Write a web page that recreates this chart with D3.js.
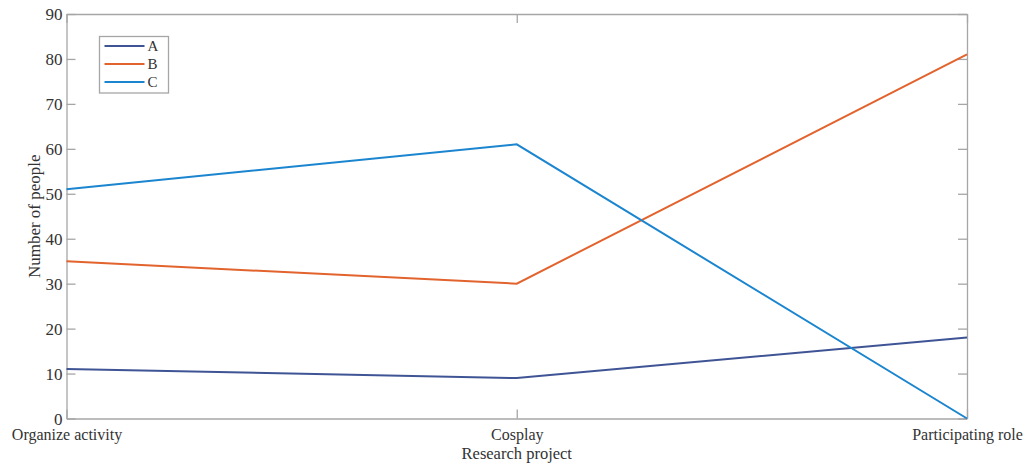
<!DOCTYPE html>
<html>
<head>
<meta charset="utf-8">
<script src="https://cdn.jsdelivr.net/npm/d3@7"></script>
<style>
	body { margin: 0; background: #fff; }
	svg text { font-family: "Liberation Serif", "DejaVu Serif", serif !important; }
</style>
</head>
<body>
<svg id="chart"></svg>
<script>
const categories = ["Organize activity", "Cosplay", "Participating role"];
const seriesNames = ["A", "B", "C"];
const valuesA = [11, 9, 18];
const valuesB = [35, 30, 81];
const valuesC = [51, 61, 0];
const yTicks = [0, 10, 20, 30, 40, 50, 60, 70, 80, 90];

const colors = ["#3f5495", "#e2632d", "#1b85cf"];
const series = [valuesA, valuesB, valuesC];

let WIDTH = 1027,
	HEIGHT = 467,
	MARGINS = { top: 14, right: 60, bottom: 48.5, left: 66.5 };

let vis = d3.select("#chart")
	.attr("width", WIDTH)
	.attr("height", HEIGHT);

let xScale = d3.scalePoint()
	.domain(categories)
	.range([MARGINS.left, WIDTH - MARGINS.right]);

let yScale = d3.scaleLinear()
	.domain([0, 90])
	.range([HEIGHT - MARGINS.bottom, MARGINS.top]);

const axisColor = "#a6a6a6";
const textColor = "#333";
const tickLen = 9;

// bottom axis
let xAxis = vis.append("g")
	.attr("transform", "translate(0," + (HEIGHT - MARGINS.bottom) + ")")
	.call(d3.axisBottom(xScale).tickSizeInner(-tickLen).tickSizeOuter(0).tickPadding(10));
// top axis ticks only
let xTop = vis.append("g")
	.attr("transform", "translate(0," + MARGINS.top + ")")
	.call(d3.axisTop(xScale).tickSizeInner(-tickLen).tickSizeOuter(0).tickFormat(""));
// left axis
let yAxis = vis.append("g")
	.attr("transform", "translate(" + MARGINS.left + ",0)")
	.call(d3.axisLeft(yScale).tickValues(yTicks).tickSizeInner(-tickLen).tickSizeOuter(0).tickPadding(4));
// right axis ticks only
let yRight = vis.append("g")
	.attr("transform", "translate(" + (WIDTH - MARGINS.right) + ",0)")
	.call(d3.axisRight(yScale).tickValues(yTicks).tickSizeInner(-tickLen).tickSizeOuter(0).tickFormat(""));

[xAxis, xTop, yAxis, yRight].forEach(function (g) {
	g.attr("font-family", null);
	g.select(".domain").attr("stroke", axisColor).attr("stroke-width", 1.3);
	g.selectAll(".tick line").attr("stroke", axisColor).attr("stroke-width", 1.3);
	g.selectAll(".tick text")
		.attr("fill", textColor)
		.style("font-size", "17px");
});
yAxis.selectAll(".tick text").attr("dy", "0.35em");
xAxis.selectAll(".tick text").style("font-size", "16px");

// axis titles
vis.append("text")
	.attr("x", xScale(categories[1]))
	.attr("y", 459)
	.attr("text-anchor", "middle")
	.attr("fill", textColor)
	.style("font-size", "16.5px")
	.text("Research project");

vis.append("text")
	.attr("transform", "translate(40," + yScale(45) + ") rotate(-90)")
	.attr("text-anchor", "middle")
	.attr("fill", textColor)
	.style("font-size", "17px")
	.text("Number of people");

// lines
let lineGen = d3.line()
	.x(function (d, i) { return xScale(categories[i]); })
	.y(function (d) { return yScale(d); });

for (let i = 0; i < series.length; i++) {
	vis.append("path")
		.attr("d", lineGen(series[i]))
		.attr("stroke", colors[i])
		.attr("stroke-width", 2)
		.attr("fill", "none");
}

// legend
let legend = vis.append("g").attr("transform", "translate(99.5,36.5)");
legend.append("rect")
	.attr("width", 69)
	.attr("height", 56.5)
	.attr("fill", "#fff")
	.attr("stroke", axisColor)
	.attr("stroke-width", 1.3);
for (let i = 0; i < seriesNames.length; i++) {
	let yy = 9.5 + i * 18;
	legend.append("line")
		.attr("x1", 5).attr("x2", 45)
		.attr("y1", yy).attr("y2", yy)
		.attr("stroke", colors[i])
		.attr("stroke-width", 2);
	legend.append("text")
		.attr("x", 48)
		.attr("y", yy)
		.attr("dy", "0.35em")
		.attr("fill", textColor)
		.style("font-size", "15px")
		.text(seriesNames[i]);
}
</script>
</body>
</html>
